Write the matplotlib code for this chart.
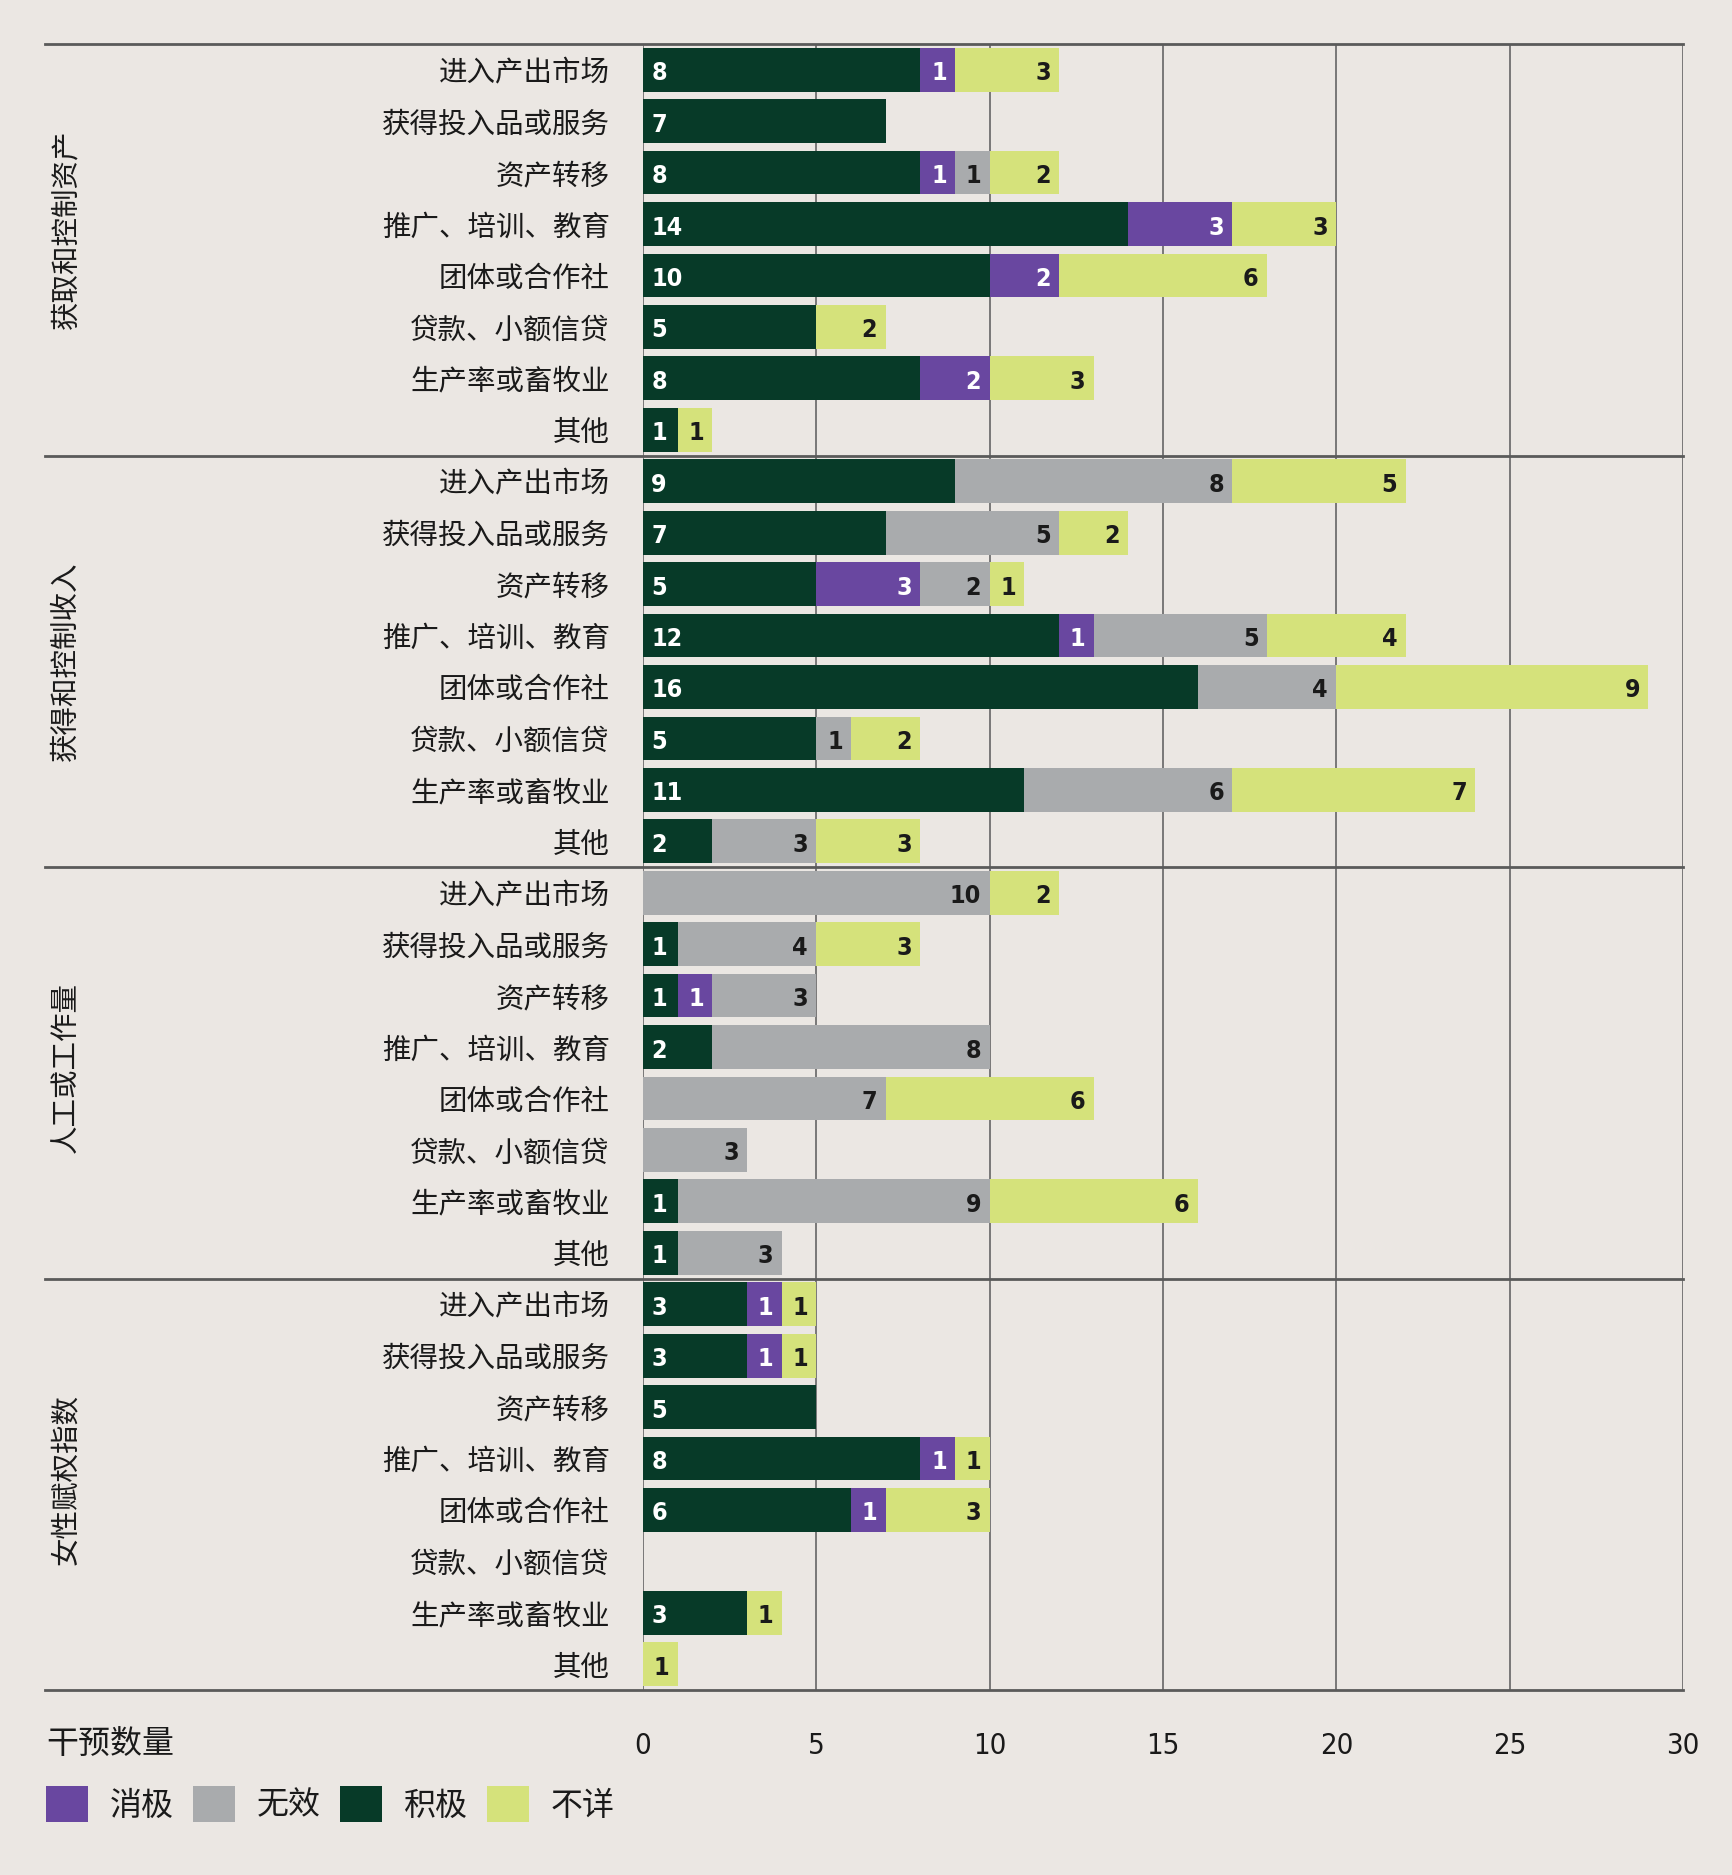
import matplotlib
matplotlib.use("Agg")
import matplotlib.pyplot as plt
from matplotlib.patches import Patch
import numpy as np

plt.rcParams['font.family'] = ['Noto Sans CJK SC', 'DejaVu Sans']

# data: four outcome groups, eight intervention types each
groups = ['获取和控制资产', '获得和控制收入', '人工或工作量', '女性赋权指数']
categories = ['进入产出市场', '获得投入品或服务', '资产转移', '推广、培训、教育',
              '团体或合作社', '贷款、小额信贷', '生产率或畜牧业', '其他']

# per group, per category (same order as categories)
positive = [
    [8, 7, 8, 14, 10, 5, 8, 1],
    [9, 7, 5, 12, 16, 5, 11, 2],
    [0, 1, 1, 2, 0, 0, 1, 1],
    [3, 3, 5, 8, 6, 0, 3, 0],
]
negative = [
    [1, 0, 1, 3, 2, 0, 2, 0],
    [0, 0, 3, 1, 0, 0, 0, 0],
    [0, 0, 1, 0, 0, 0, 0, 0],
    [1, 1, 0, 1, 1, 0, 0, 0],
]
no_effect = [
    [0, 0, 1, 0, 0, 0, 0, 0],
    [8, 5, 2, 5, 4, 1, 6, 3],
    [10, 4, 3, 8, 7, 3, 9, 3],
    [0, 0, 0, 0, 0, 0, 0, 0],
]
unknown = [
    [3, 0, 2, 3, 6, 2, 3, 1],
    [5, 2, 1, 4, 9, 2, 7, 3],
    [2, 3, 0, 0, 6, 0, 6, 0],
    [1, 1, 0, 1, 3, 0, 1, 1],
]

series_names = ['积极', '消极', '无效', '不详']
legend_order = ['消极', '无效', '积极', '不详']

BG = '#ebe7e3'
C_POS = '#073a28'
C_NEG = '#6947a0'
C_NONE = '#a9abad'
C_UNK = '#d5e27b'
TXT = '#1a1a1a'
LINE = '#5a5a5a'

colors = {'积极': C_POS, '消极': C_NEG, '无效': C_NONE, '不详': C_UNK}
label_colors = {'积极': 'white', '消极': 'white', '无效': TXT, '不详': TXT}

num_font = ['Liberation Sans Narrow', 'DejaVu Sans']

fig = plt.figure(figsize=(17.33, 18.75), dpi=100, facecolor=BG)
ax = fig.add_axes([643 / 1733, 1 - 1690 / 1875, 1040 / 1733, 1646 / 1875])
ax.set_facecolor(BG)

n_cat = len(categories)
ylabels = []
for g in range(len(groups)):
    ylabels += categories
y = np.arange(len(ylabels))

pos_all = np.concatenate(positive)
neg_all = np.concatenate(negative)
none_all = np.concatenate(no_effect)
unk_all = np.concatenate(unknown)
stack = {'积极': pos_all, '消极': neg_all, '无效': none_all, '不详': unk_all}

h = 0.85
left = np.zeros(len(y))
for name in series_names:
    vals = stack[name]
    ax.barh(y, vals, left=left, height=h, color=colors[name], zorder=3)
    for yi, (l, v) in enumerate(zip(left, vals)):
        if v == 0:
            continue
        if name == '积极':
            ax.annotate(str(v), (l, yi), xytext=(6, -2.5), textcoords='offset points',
                        ha='left', va='center', color=label_colors[name],
                        fontsize=18, fontweight='bold', fontstretch='condensed',
                        family=num_font, zorder=4)
        else:
            ax.annotate(str(v), (l + v, yi), xytext=(-6, -2.5), textcoords='offset points',
                        ha='right', va='center', color=label_colors[name],
                        fontsize=18, fontweight='bold', fontstretch='condensed',
                        family=num_font, zorder=4)
    left = left + vals

ax.set_xlim(0, 30)
ax.set_ylim(len(y) - 0.5, -0.5)
ax.set_xticks(range(0, 31, 5))
ax.set_yticks(y)
ax.set_yticklabels(ylabels, fontsize=20.5, color=TXT)
for lab in ax.get_xticklabels():
    lab.set_family(num_font)
    lab.set_fontsize(21)
    lab.set_stretch('condensed')
    lab.set_color(TXT)
ax.tick_params(axis='y', length=0, pad=24)
ax.tick_params(axis='x', length=0, pad=30)
for s in ax.spines.values():
    s.set_visible(False)
ax.grid(axis='x', color=LINE, linewidth=1.1, zorder=1)
ax.grid(axis='y', visible=False)

# group separators reaching out under the labels
x_start = (45 - 643) / 1040
for b in range(len(groups) + 1):
    ax.axhline(b * n_cat - 0.5, xmin=x_start, xmax=1, color=LINE, linewidth=2,
               clip_on=False, zorder=2)

# first group label sits a little above its block centre in the original
label_shift = [-0.4, 0, -0.1, -0.1]
for g, name in enumerate(groups):
    ax.text((66 - 643) / 1040, g * n_cat + (n_cat - 1) / 2 + label_shift[g], name,
            transform=ax.get_yaxis_transform(), rotation=90,
            ha='center', va='center', fontsize=20.5, color=TXT)

fig.text(46 / 1733, 1 - 1744 / 1875, '干预数量', fontsize=23, color=TXT,
         ha='left', va='center')

handles = [Patch(facecolor=colors[n], edgecolor='none', label=n) for n in legend_order]
fig.legend(handles=handles, loc='center left', bbox_to_anchor=(46 / 1733, 1 - 1804 / 1875),
           ncol=4, frameon=False, fontsize=23, handlelength=1.3, handleheight=1.4,
           handletextpad=0.7, columnspacing=0.6, borderpad=0, borderaxespad=0,
           labelcolor=TXT)

fig.savefig('out.png', dpi=100, facecolor=BG)
